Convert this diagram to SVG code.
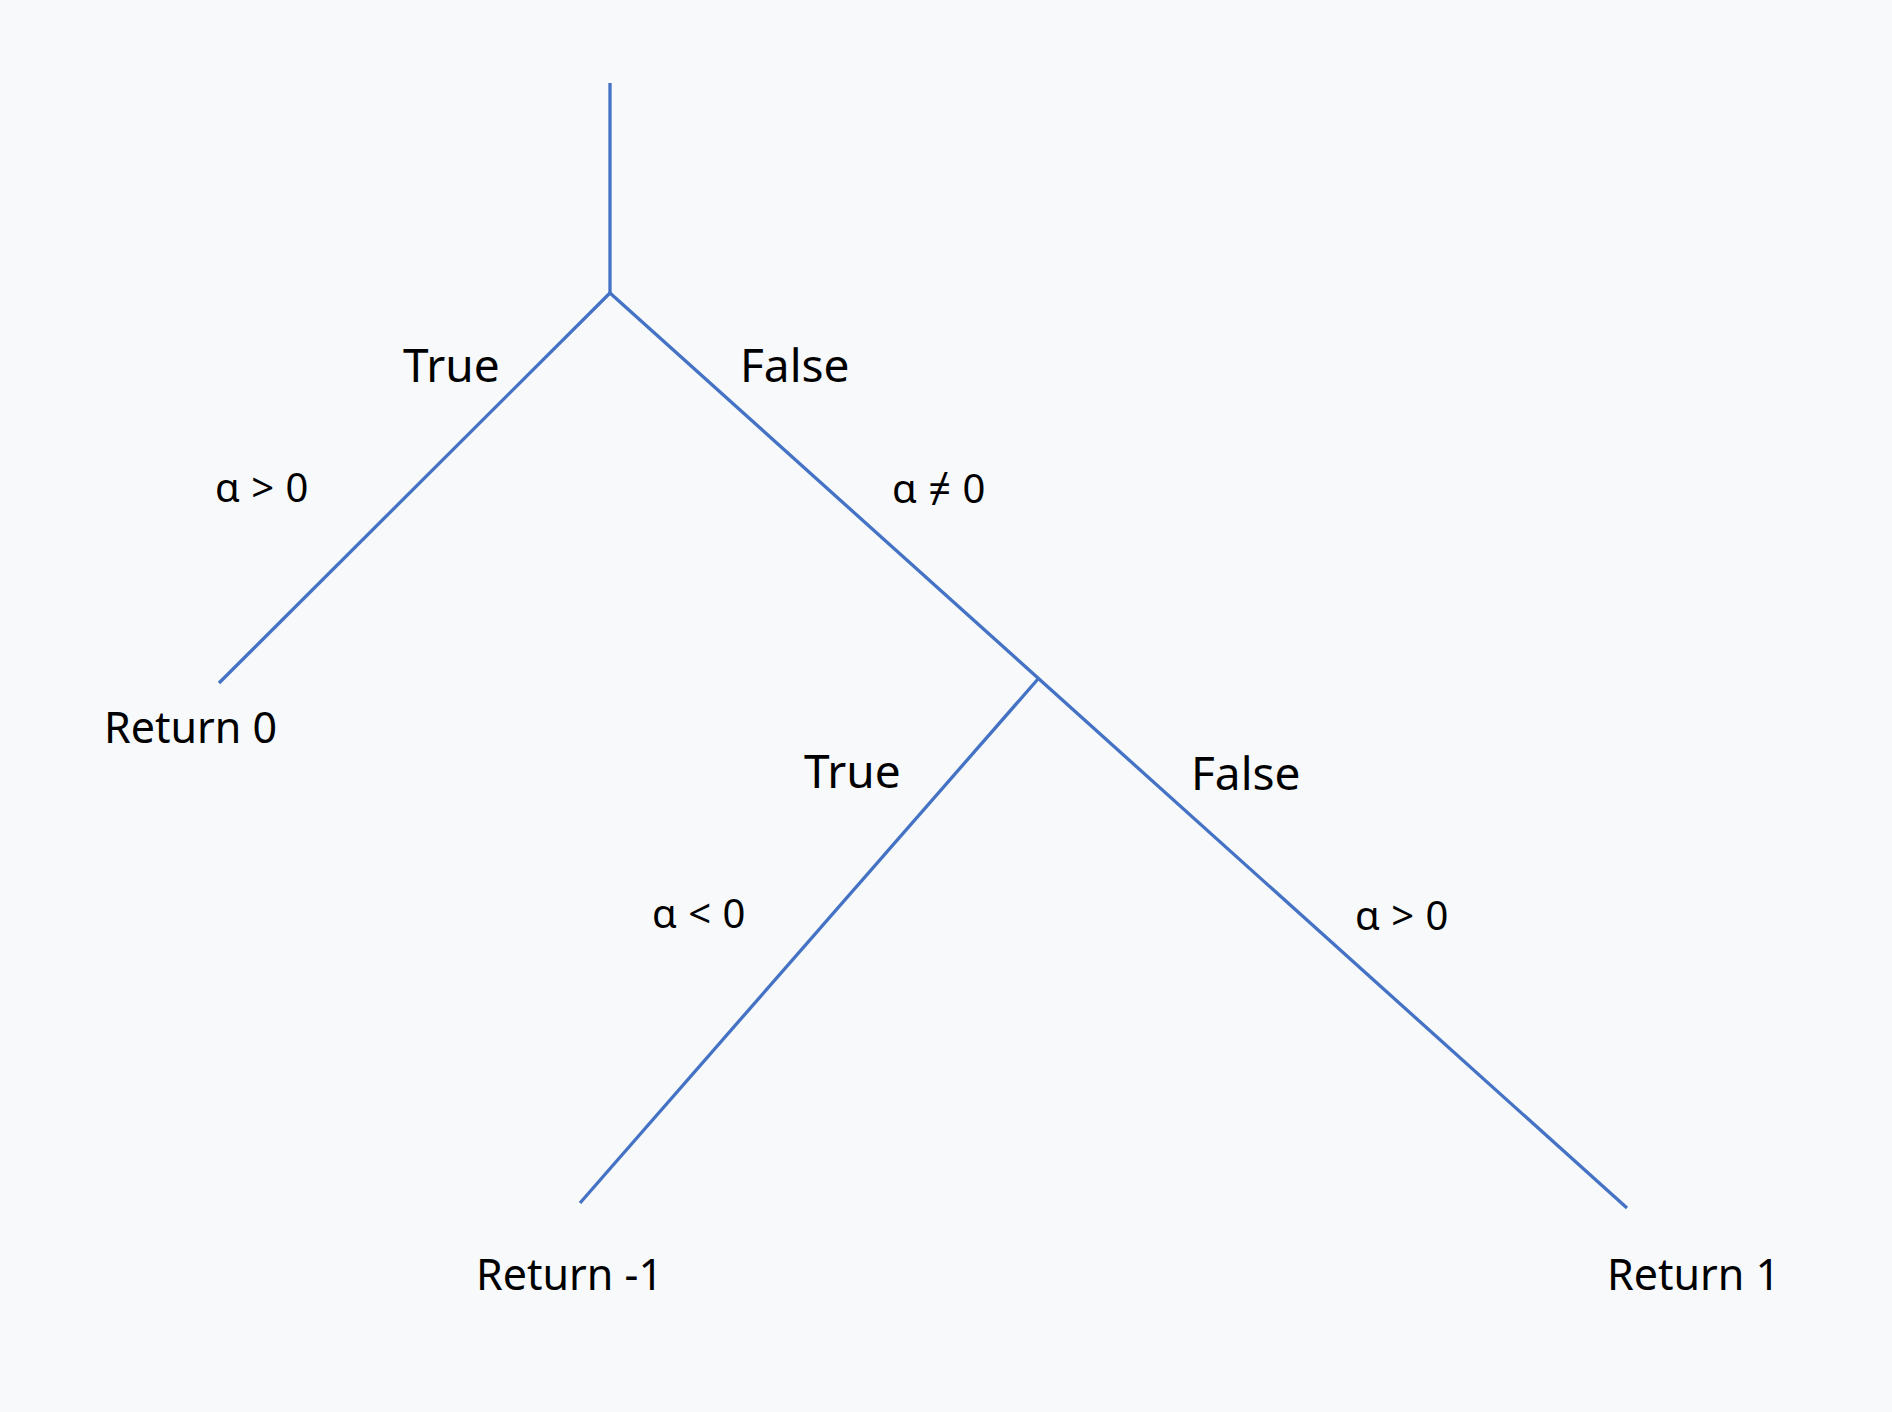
<svg xmlns="http://www.w3.org/2000/svg" width="1892" height="1412" viewBox="0 0 1892 1412">
<style>
.edge{stroke:#4472C4;stroke-width:3.3;fill:none;stroke-linecap:butt}
.big{font-family:"Noto Sans","Open Sans",sans-serif;font-size:46px;fill:#000}
.ret{font-family:"Noto Sans","Open Sans",sans-serif;font-size:43px;fill:#000}
.cond{font-family:"Noto Sans","Open Sans",sans-serif;font-size:40px;fill:#000;word-spacing:1px}
</style>
<rect width="1892" height="1412" fill="#F7F9FB"/>
<g id="connectors">
<line class="edge" x1="610" y1="83" x2="610" y2="293"/>
<line class="edge" x1="610" y1="293" x2="219" y2="683"/>
<line class="edge" x1="610" y1="293" x2="1627" y2="1208"/>
<line class="edge" x1="1038" y1="679" x2="580" y2="1203"/>
</g>
<g id="labels">
<text class="big" x="403" y="382">True</text>
<text class="big" x="740" y="382">False</text>
<text class="cond" x="215" y="502">α &gt; 0</text>
<text class="cond" x="892" y="503">α ≠ 0</text>
<text class="big" x="804" y="788">True</text>
<text class="big" x="1191" y="790">False</text>
<text class="cond" x="652" y="928">α &lt; 0</text>
<text class="cond" x="1355" y="930">α &gt; 0</text>
</g>
<g id="node-return0"><text class="ret" x="104" y="743">Return 0</text></g>
<g id="node-return-1"><text class="ret" x="476" y="1290">Return -1</text></g>
<g id="node-return1"><text class="ret" x="1607" y="1290">Return 1</text></g>
</svg>
